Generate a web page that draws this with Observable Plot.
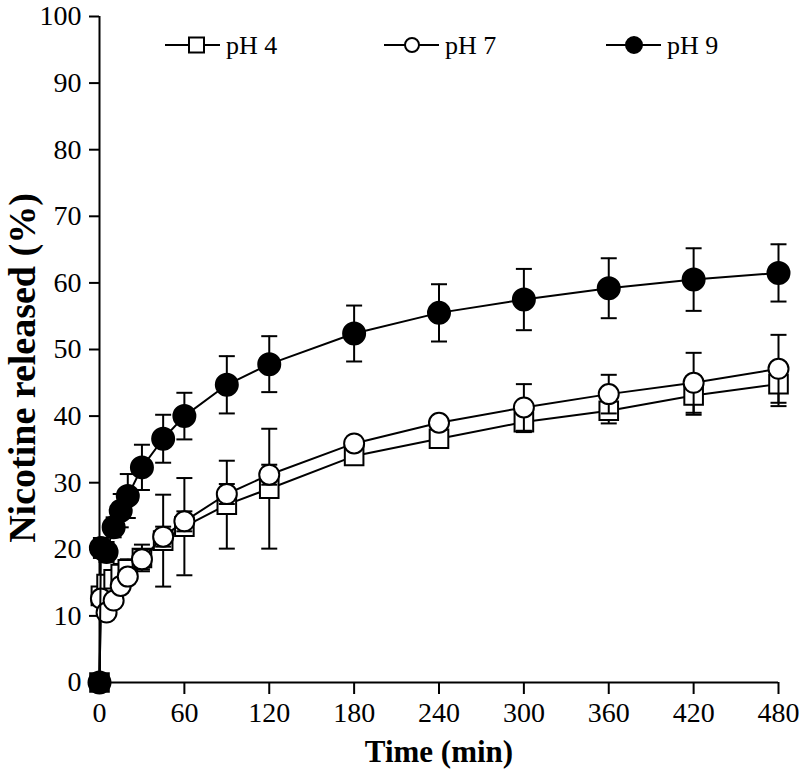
<!DOCTYPE html>
<html>
<head>
<meta charset="utf-8">
<script src="https://cdn.jsdelivr.net/npm/d3@7"></script>
<script src="https://cdn.jsdelivr.net/npm/@observablehq/plot@0.6"></script>
<style>
  html, body { margin: 0; padding: 0; background: #fff; }
  #wrap { position: relative; width: 799px; height: 772px; }
  #legend { position: absolute; left: 0; top: 0; width: 799px; height: 90px; pointer-events: none; }
  svg text { font-family: "Liberation Serif", "Times New Roman", serif; }
</style>
</head>
<body>
<div id="wrap"><svg id="legend"></svg></div>
<script>
// ---- data ----
const times = [0, 1, 5, 10, 15, 20, 30, 45, 60, 90, 120, 180, 240, 300, 360, 420, 480];
const ph4Mean = [0, 13.0, 14.8, 15.5, 16.3, 17.0, 18.7, 21.3, 23.4, 26.7, 29.1, 34.0, 36.6, 39.1, 40.8, 43.1, 44.8];
const ph4Err  = [0, 1.0, 1.0, 1.0, 1.5, 1.5, 2.0, 6.9, 7.3, 6.6, 9.0, 1.0, 1.0, 1.5, 1.9, 2.9, 3.3];
const ph7Mean = [0, 12.6, 10.5, 12.3, 14.5, 15.9, 18.5, 21.9, 24.2, 28.3, 31.2, 35.9, 39.0, 41.3, 43.3, 45.0, 47.1];
const ph7Err  = [0, 1.0, 1.0, 1.0, 1.0, 1.0, 1.5, 1.5, 1.5, 1.5, 1.5, 1.0, 1.0, 3.5, 2.9, 4.5, 5.1];
const ph9Mean = [0, 20.2, 19.6, 23.3, 25.8, 28.0, 32.3, 36.6, 40.0, 44.7, 47.8, 52.4, 55.5, 57.5, 59.2, 60.5, 61.5];
const ph9Err  = [0, 1.5, 1.5, 1.5, 2.5, 3.3, 3.4, 3.6, 3.5, 4.3, 4.2, 4.2, 4.3, 4.6, 4.5, 4.7, 4.3];
const seriesNames = ["pH 4", "pH 7", "pH 9"];
const xTicks = [0, 60, 120, 180, 240, 300, 360, 420, 480];
const yTicks = [0, 10, 20, 30, 40, 50, 60, 70, 80, 90, 100];
const xTitle = "Time (min)";
const yTitle = "Nicotine released (%)";

// ---- build tables ----
function rows(means, errs) {
  return times.map((t, i) => ({t, v: means[i], lo: means[i] - errs[i], hi: means[i] + errs[i], e: errs[i]}));
}
const series = [
  {name: seriesNames[0], data: rows(ph4Mean, ph4Err), symbol: "square", r: 10.5, fill: "white"},
  {name: seriesNames[1], data: rows(ph7Mean, ph7Err), symbol: "circle", r: 10, fill: "white"},
  {name: seriesNames[2], data: rows(ph9Mean, ph9Err), symbol: "circle", r: 11, fill: "black"}
];

const cap = {draw(ctx) { ctx.moveTo(-8, 0); ctx.lineTo(8, 0); }};

const marks = [
  Plot.ruleX([0], {strokeWidth: 2}),
  Plot.ruleY([0], {strokeWidth: 2}),
  Plot.axisX({ticks: xTicks, tickSize: 12, tickPadding: 8, strokeWidth: 2, label: null, tickFormat: d => String(d)}),
  Plot.axisY({ticks: yTicks, tickSize: 10, tickPadding: 8, strokeWidth: 2, label: null, tickFormat: d => String(d)})
];
for (const s of series) {
  const withErr = s.data.filter(d => d.e > 0);
  marks.push(
    Plot.ruleX(withErr, {x: "t", y1: "lo", y2: "hi", stroke: "black", strokeWidth: 2}),
    Plot.dot(withErr, {x: "t", y: "lo", symbol: cap, stroke: "black", fill: "none", strokeWidth: 2}),
    Plot.dot(withErr, {x: "t", y: "hi", symbol: cap, stroke: "black", fill: "none", strokeWidth: 2}),
    Plot.line(s.data, {x: "t", y: "v", stroke: "black", strokeWidth: 2}),
    Plot.dot(s.data, {x: "t", y: "v", symbol: s.symbol, r: s.r, fill: s.fill, stroke: "black", strokeWidth: 2})
  );
}

const plot = Plot.plot({
  width: 799,
  height: 772,
  marginLeft: 99,
  marginRight: 21,
  marginTop: 16,
  marginBottom: 90,
  style: {fontFamily: "Liberation Serif", fontSize: "28px", background: "transparent", color: "black", overflow: "visible"},
  x: {domain: [0, 480]},
  y: {domain: [0, 100]},
  marks
});
const wrap = document.getElementById("wrap");
wrap.insertBefore(plot, wrap.firstChild);

// axis titles
const svg = d3.select(plot);
svg.append("text")
  .attr("transform", "translate(35,368) rotate(-90)")
  .attr("text-anchor", "middle")
  .style("font-family", "Liberation Serif").style("font-weight", "bold").style("font-size", "38px")
  .text(yTitle);
svg.append("text")
  .attr("x", 439).attr("y", 762)
  .attr("text-anchor", "middle")
  .style("font-family", "Liberation Serif").style("font-weight", "bold").style("font-size", "31px")
  .text(xTitle);

// legend (overlay)
const leg = d3.select("#legend");
const legendX = [165, 384, 606];
series.forEach((s, i) => {
  const g = leg.append("g").attr("transform", `translate(${legendX[i]},45)`);
  g.append("line").attr("x1", 0).attr("x2", 55).attr("y1", 0).attr("y2", 0).attr("stroke", "black").attr("stroke-width", 2);
  if (s.symbol === "square") {
    g.append("rect").attr("x", 24).attr("y", -7.5).attr("width", 15).attr("height", 15).attr("fill", "white").attr("stroke", "black").attr("stroke-width", 2);
  } else {
    g.append("circle").attr("cx", 28).attr("cy", 0).attr("r", s.fill === "black" ? 8 : 7).attr("fill", s.fill).attr("stroke", "black").attr("stroke-width", 2);
  }
  g.append("text").attr("x", 61).attr("y", 9).style("font-size", "26px").style("font-family", "Liberation Serif").text(s.name);
});
</script>
</body>
</html>
